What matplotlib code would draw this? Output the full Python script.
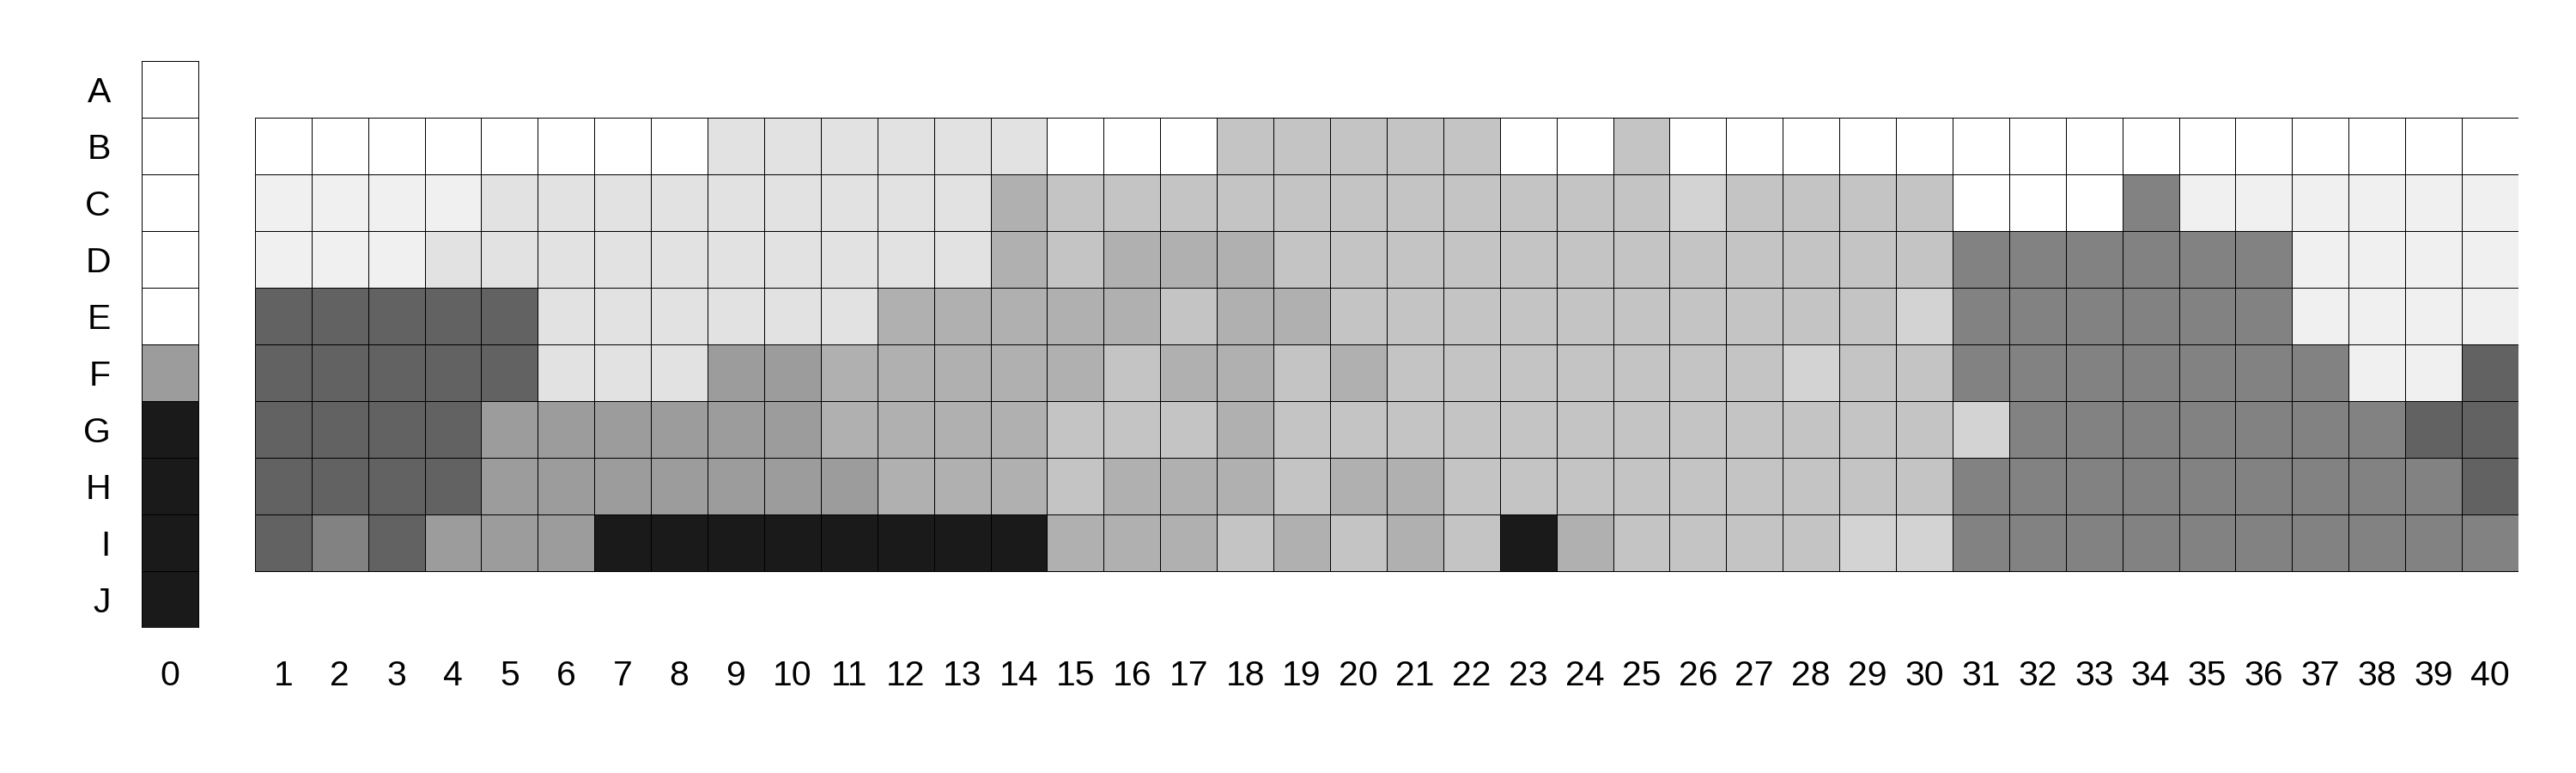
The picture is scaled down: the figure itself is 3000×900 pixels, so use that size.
import numpy as np
import matplotlib
matplotlib.use("Agg")
import matplotlib.pyplot as plt

plt.rcParams["font.family"] = ["Liberation Sans", "DejaVu Sans"]

# shade codes: 0 = white ... 9 = near black
shade_gray = [255, 240, 226, 211, 196, 176, 156, 130, 98, 26]

col0_rows = ["A", "B", "C", "D", "E", "F", "G", "H", "I", "J"]
col0_levels = [0, 0, 0, 0, 0, 6, 9, 9, 9, 9]

grid_rows = ["B", "C", "D", "E", "F", "G", "H", "I"]
grid_cols = list(range(1, 41))
grid_levels = [
    [0, 0, 0, 0, 0, 0, 0, 0, 2, 2, 2, 2, 2, 2, 0, 0, 0, 4, 4, 4, 4, 4, 0, 0, 4, 0, 0, 0, 0, 0, 0, 0, 0, 0, 0, 0, 0, 0, 0, 0],
    [1, 1, 1, 1, 2, 2, 2, 2, 2, 2, 2, 2, 2, 5, 4, 4, 4, 4, 4, 4, 4, 4, 4, 4, 4, 3, 4, 4, 4, 4, 0, 0, 0, 7, 1, 1, 1, 1, 1, 1],
    [1, 1, 1, 2, 2, 2, 2, 2, 2, 2, 2, 2, 2, 5, 4, 5, 5, 5, 4, 4, 4, 4, 4, 4, 4, 4, 4, 4, 4, 4, 7, 7, 7, 7, 7, 7, 1, 1, 1, 1],
    [8, 8, 8, 8, 8, 2, 2, 2, 2, 2, 2, 5, 5, 5, 5, 5, 4, 5, 5, 4, 4, 4, 4, 4, 4, 4, 4, 4, 4, 3, 7, 7, 7, 7, 7, 7, 1, 1, 1, 1],
    [8, 8, 8, 8, 8, 2, 2, 2, 6, 6, 5, 5, 5, 5, 5, 4, 5, 5, 4, 5, 4, 4, 4, 4, 4, 4, 4, 3, 4, 4, 7, 7, 7, 7, 7, 7, 7, 1, 1, 8],
    [8, 8, 8, 8, 6, 6, 6, 6, 6, 6, 5, 5, 5, 5, 4, 4, 4, 5, 4, 4, 4, 4, 4, 4, 4, 4, 4, 4, 4, 4, 3, 7, 7, 7, 7, 7, 7, 7, 8, 8],
    [8, 8, 8, 8, 6, 6, 6, 6, 6, 6, 6, 5, 5, 5, 4, 5, 5, 5, 4, 5, 5, 4, 4, 4, 4, 4, 4, 4, 4, 4, 7, 7, 7, 7, 7, 7, 7, 7, 7, 8],
    [8, 7, 8, 6, 6, 6, 9, 9, 9, 9, 9, 9, 9, 9, 5, 5, 5, 4, 5, 4, 5, 4, 9, 5, 4, 4, 4, 4, 3, 3, 7, 7, 7, 7, 7, 7, 7, 7, 7, 7],
]

gray = np.array(shade_gray, dtype=float)
col0_vals = gray[np.array(col0_levels)].reshape(-1, 1)
grid_vals = gray[np.array(grid_levels)]

fig = plt.figure(figsize=(30, 9), dpi=100)
ax = fig.add_axes([165 / 3000, 1 - 731 / 900, (2933 - 165) / 3000, 660 / 900])

mesh_kw = dict(cmap="gray", vmin=0, vmax=255, edgecolors="black", linewidth=0.7)
# column 0 sits at x=0, then one empty slot, then columns 1..40
ax.pcolormesh(np.arange(2), np.arange(len(col0_rows) + 1), col0_vals, **mesh_kw)
ax.pcolormesh(np.arange(len(grid_cols) + 1) + 2, np.arange(len(grid_rows) + 1) + 1, grid_vals, **mesh_kw)

ax.set_xlim(0, len(grid_cols) + 2)
ax.set_ylim(len(col0_rows), 0)
for s in ax.spines.values():
    s.set_visible(False)

ax.set_xticks([0.5] + [c + 1.5 for c in grid_cols])
ax.set_xticklabels(["0"] + [str(c) for c in grid_cols])
ax.set_yticks(np.arange(len(col0_rows)) + 0.5)
ax.set_yticklabels(col0_rows)
ax.tick_params(axis="x", length=0, pad=27, labelsize=29.5)
ax.tick_params(axis="y", length=0, pad=26, labelsize=29.5)

fig.savefig("out.png", dpi=100, facecolor="white")
